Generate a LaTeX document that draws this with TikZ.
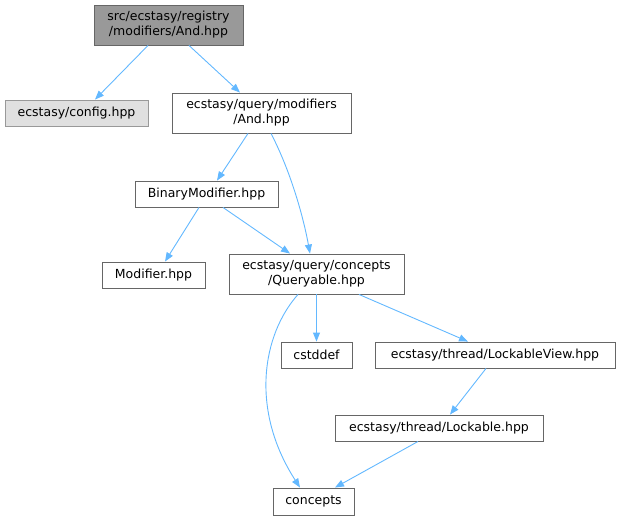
\documentclass[tikz,border=0pt]{standalone}
\usepackage{fontspec}
\setmainfont{DejaVu Sans}
\usetikzlibrary{arrows.meta}
\definecolor{edgeblue}{HTML}{63B8FF}
\definecolor{rootfill}{HTML}{999999}
\definecolor{rootdraw}{HTML}{666666}
\definecolor{extfill}{HTML}{E0E0E0}
\definecolor{extdraw}{HTML}{999999}
\definecolor{boxdraw}{HTML}{666666}
\tikzset{
  fbox/.style={draw=boxdraw, fill=white, line width=0.9pt, inner sep=0pt, align=center,
    font=\fontsize{12.5}{15}\selectfont},
  rootbox/.style={fbox, fill=rootfill, draw=rootdraw},
  extbox/.style={fbox, fill=extfill, draw=extdraw},
  dep/.style={draw=edgeblue, line width=0.9pt, -{Triangle[length=9pt,width=7pt]}, edgeblue}
}
\begin{document}
\begin{tikzpicture}[x=1pt,y=1pt]
\useasboundingbox (0,0) rectangle (620,-520);
\node[rootbox, minimum width=149, minimum height=40] (root) at (168.5,-25) {src/ecstasy/registry\\/modifiers/And.hpp};
\node[extbox, minimum width=143, minimum height=26] (config) at (76.5,-113) {ecstasy/config.hpp};
\node[fbox, minimum width=179, minimum height=40] (qand) at (261.5,-113) {ecstasy/query/modifiers\\/And.hpp};
\node[fbox, minimum width=143, minimum height=26] (bin) at (206.5,-194) {BinaryModifier.hpp};
\node[fbox, minimum width=103, minimum height=26] (mod) at (153.5,-275) {Modifier.hpp};
\node[fbox, minimum width=175, minimum height=40] (qry) at (316.5,-274) {ecstasy/query/concepts\\/Queryable.hpp};
\node[fbox, minimum width=71, minimum height=26] (cst) at (316.5,-355) {cstddef};
\node[fbox, minimum width=240, minimum height=26] (lv) at (495,-355) {ecstasy/thread/LockableView.hpp};
\node[fbox, minimum width=208, minimum height=26] (lk) at (439,-428) {ecstasy/thread/Lockable.hpp};
\node[fbox, minimum width=81, minimum height=27] (con) at (313.5,-501.5) {concepts};

\draw[dep] ([xshift=-20.5]root.south) -- ([xshift=18.5]config.north);
\draw[dep] ([xshift=20.5]root.south) -- ([xshift=-21.5]qand.north);
\draw[dep] ([xshift=-13.5]qand.south) -- ([xshift=10.5]bin.north);
\draw[dep] ([xshift=9.5]qand.south) .. controls (290,-170) and (303,-215) .. ([xshift=-6.5]qry.north);
\draw[dep] ([xshift=-7.5]bin.south) -- ([xshift=11.5]mod.north);
\draw[dep] ([xshift=16.5]bin.south) -- ([xshift=-26.5]qry.north);
\draw[dep] (qry.south) -- (cst.north);
\draw[dep] ([xshift=42.5]qry.south) -- ([xshift=-27]lv.north);
\draw[dep] ([xshift=-18.5]qry.south) .. controls (262,-335) and (250,-410) .. ([xshift=-13.5]con.north);
\draw[dep] ([xshift=-9]lv.south) -- ([xshift=11]lk.north);
\draw[dep] ([xshift=-21]lk.south) -- ([xshift=21.5]con.north);
\end{tikzpicture}
\end{document}
